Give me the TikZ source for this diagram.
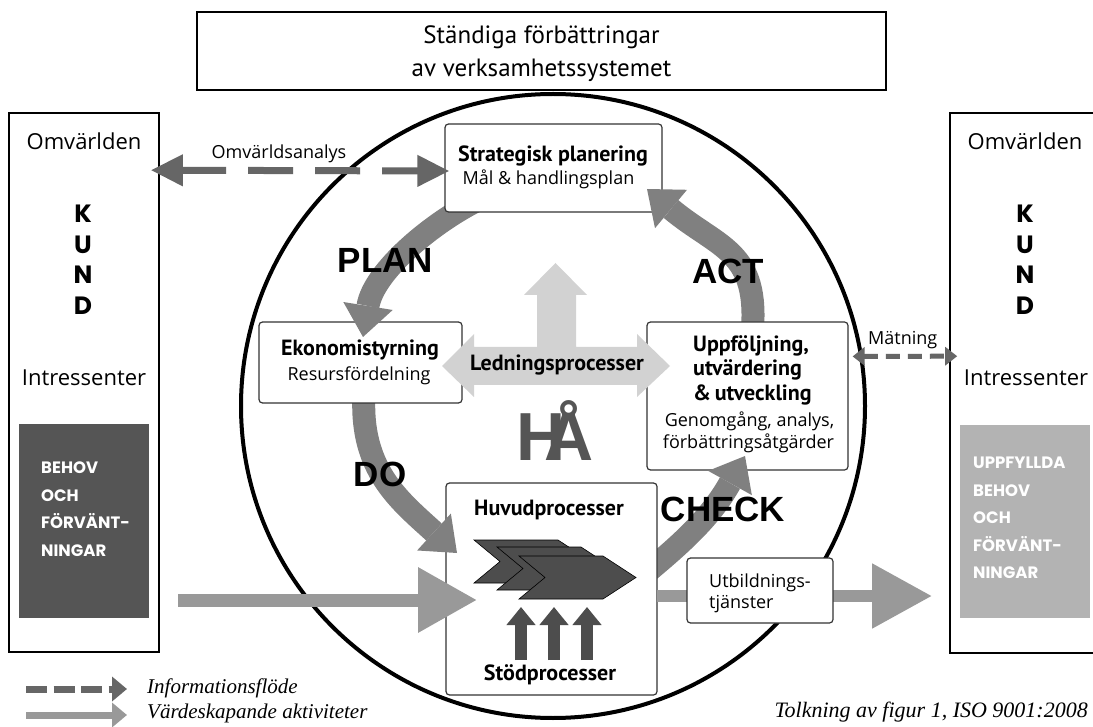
\documentclass[tikz,border=0pt]{standalone}
\usepackage{fontspec}
\setmainfont{Open Sans}
\newfontfamily\ptsans{PT Sans}
\newfontfamily\popfont{Poppins}
\newfontfamily\libsans{Liberation Sans}
\newfontfamily\legserif{Liberation Serif}
\usetikzlibrary{arrows.meta,calc}
\definecolor{infocol}{HTML}{666666}
\definecolor{valcol}{HTML}{999999}
\definecolor{pdcacol}{HTML}{808080}
\definecolor{ledcol}{HTML}{D2D2D2}
\definecolor{darkcol}{HTML}{4D4D4D}
\definecolor{needcol}{HTML}{555555}
\definecolor{metcol}{HTML}{B3B3B3}
\newcommand{\pdcahead}[2]{\fill[pdcacol] ($(#1)!25pt!90:(#2)$) -- (#2) -- ($(#1)!25pt!-90:(#2)$) -- cycle;}
\begin{document}
\begin{tikzpicture}[x=1pt,y=-1pt,
  sqbox/.style={draw=black, line width=1.6pt, fill=white, inner sep=0pt},
  rbox/.style={draw=black!80, line width=1.2pt, rounded corners=3.5pt, fill=white, inner sep=0pt},
  lt/.style={font=\fontsize{18}{20}\selectfont, inner sep=0pt},
  ltbig/.style={font=\fontsize{22}{24}\selectfont, inner sep=0pt},
  bd/.style={font=\ptsans\bfseries\fontsize{22}{24}\selectfont, inner sep=0pt},
  toptxt/.style={font=\ptsans\fontsize{25}{27}\selectfont, inner sep=0pt},
  pdcatxt/.style={font=\libsans\bfseries\fontsize{35}{37}\selectfont, inner sep=0pt},
  kund/.style={font=\popfont\bfseries\fontsize{25}{27}\selectfont, inner sep=0pt},
  needtxt/.style={font=\popfont\bfseries\fontsize{16.5}{20}\selectfont, text=white, inner sep=0pt},
  legtxt/.style={font=\legserif\itshape\fontsize{21}{23}\selectfont, inner sep=0pt},
  infoarrow/.style={draw=infocol, line width=7pt, dash pattern=on 45pt off 22pt},
  shaft/.style={draw=pdcacol, line width=23pt},
  chevron/.style={fill=darkcol, draw=black, line width=0.6pt},
]
\useasboundingbox (0,0) rectangle (1093,727);
\clip (0,0) rectangle (1093,727);
\fill[white] (0,0) rectangle (1093,727);

% top box
\node[sqbox, minimum width=689pt, minimum height=78pt] (top) at (541.5,51) {};
\node[toptxt, anchor=base] (top1) at (541.5,44) {Ständiga förbättringar};
\node[toptxt, anchor=base] (top2) at (541.5,77) {av verksamhetssystemet};

% left box
\node[sqbox, minimum width=150pt, minimum height=539pt] (lbox) at (84,382.5) {};
\node[ltbig, anchor=base] (lomv) at (84,150) {Omvärlden};
\node[kund, anchor=base] (lk1) at (83,223) {K};
\node[kund, anchor=base] (lk2) at (83,254) {U};
\node[kund, anchor=base] (lk3) at (83,284) {N};
\node[kund, anchor=base] (lk4) at (83,315) {D};
\node[ltbig, anchor=base] (lint) at (84,385) {Intressenter};
\node[fill=needcol, minimum width=130pt, minimum height=194pt, inner sep=0pt] (need) at (84,521) {};
\node[needtxt, anchor=base west] (n1) at (41,473) {BEHOV};
\node[needtxt, anchor=base west] (n2) at (41,501) {OCH};
\node[needtxt, anchor=base west] (n3) at (41,528) {FÖRVÄNT-};
\node[needtxt, anchor=base west] (n4) at (41,556) {NINGAR};

% right box
\node[sqbox, minimum width=150pt, minimum height=540pt] (rbox) at (1025,383) {};
\node[ltbig, anchor=base] (romv) at (1025,150) {Omvärlden};
\node[kund, anchor=base] (rk1) at (1025,223) {K};
\node[kund, anchor=base] (rk2) at (1025,254) {U};
\node[kund, anchor=base] (rk3) at (1025,284) {N};
\node[kund, anchor=base] (rk4) at (1025,315) {D};
\node[ltbig, anchor=base] (rint) at (1026,385) {Intressenter};
\node[fill=metcol, minimum width=130pt, minimum height=193pt, inner sep=0pt] (met) at (1025,521.5) {};
\node[needtxt, anchor=base west] (m1) at (973,468) {UPPFYLLDA};
\node[needtxt, anchor=base west] (m2) at (973,496) {BEHOV};
\node[needtxt, anchor=base west] (m3) at (973,523) {OCH};
\node[needtxt, anchor=base west] (m4) at (973,551) {FÖRVÄNT-};
\node[needtxt, anchor=base west] (m5) at (973,578) {NINGAR};

% big circle
\node[draw, line width=4pt, circle, minimum size=624pt, inner sep=0pt] (circ) at (553,406) {};

% PDCA shafts
\coordinate (S1) at (482,198); \coordinate (C1) at (432,222);
\coordinate (B1) at (368,306); \coordinate (T1) at (363,337);
\coordinate (S2) at (364,395); \coordinate (C2) at (360,470);
\coordinate (B2) at (434,532); \coordinate (T2) at (457,553);
\coordinate (S3) at (640,578); \coordinate (C3) at (680,545);
\coordinate (B3) at (730,483); \coordinate (T3) at (745,456);
\coordinate (S4) at (752,335); \coordinate (C4) at (760,250);
\coordinate (B4) at (671,209); \coordinate (T4) at (647,189);
\draw[shaft] (S1) .. controls (C1) and ($(B1)!-1.1!(T1)$) .. (B1);
\draw[shaft] (S2) .. controls (C2) and ($(B2)!-1.5!(T2)$) .. (B2);
\draw[shaft] (S3) .. controls (C3) and ($(B3)!-1.3!(T3)$) .. (B3);
\draw[shaft] (S4) .. controls (C4) and ($(B4)!-2!(T4)$) .. (B4);

% process boxes
\node[rbox, minimum width=217pt, minimum height=88pt] (strat) at (553.5,168) {};
\node[rbox, minimum width=203pt, minimum height=81pt] (ekon) at (360.5,362.5) {};
\node[rbox, minimum width=201pt, minimum height=148pt] (uppf) at (747.5,396) {};
\node[rbox, minimum width=211pt, minimum height=212pt] (huvud) at (551.5,589) {};

% value flow out (under the training box)
\coordinate (vr1) at (657,596);
\coordinate (vr2) at (932,596);
\draw[valcol, line width=12pt, -{Triangle[length=60pt,width=62pt]}] (vr1) -- (vr2);
\node[rbox, minimum width=146pt, minimum height=65pt] (utb) at (760,590.5) {};
\node[lt, anchor=base west] (utb1) at (709,587) {Utbildnings-};
\node[lt, anchor=base west] (utb2) at (709,608) {tjänster};

% PDCA heads
\pdcahead{B1}{T1}
\pdcahead{B2}{T2}
\pdcahead{B3}{T3}
\pdcahead{B4}{T4}

% Ledningsprocesser
\fill[ledcol] (442,366) -- (474,334) -- (474,347) -- (537,347) -- (537,295) -- (524,295)
  -- (555.5,263) -- (587,295) -- (576,295) -- (576,347) -- (637,347) -- (637,334)
  -- (670,366) -- (637,397) -- (637,385) -- (474,385) -- (474,397) -- cycle;
\node[bd, anchor=base] (led) at (557,371) {Ledningsprocesser};

% HÅ
\node[font=\libsans\bfseries\fontsize{68}{70}\selectfont, text=needcol, anchor=base, inner sep=0pt] (ha) at (555,460) {H\kern-0.3em Å};

% box texts
\node[bd, anchor=base] (st1) at (553,162) {Strategisk planering};
\node[lt, anchor=base] (st2) at (548.5,185) {Mål \& handlingsplan};
\node[bd, anchor=base] (ek1) at (360,356) {Ekonomistyrning};
\node[lt, anchor=base] (ek2) at (359,381) {Resursfördelning};
\node[bd, anchor=base west] (up1) at (693,352) {Uppföljning,};
\node[bd, anchor=base west] (up2) at (693,376) {utvärdering};
\node[bd, anchor=base west] (up3) at (693,400) {\&\,utveckling};
\node[lt, anchor=base] (up4) at (749.5,427) {Genomgång, analys,};
\node[lt, anchor=base] (up5) at (748.5,448) {förbättringsåtgärder};
\node[bd, anchor=base] (hv1) at (549,515) {Huvudprocesser};
\node[bd, anchor=base] (hv2) at (550,680) {Stödprocesser};

% chevrons
\filldraw[chevron] (474,540) -- ++(84,0) -- ++(33,21.5) -- ++(-33,21.5) -- ++(-84,0) -- ++(26,-21.5) -- cycle;
\filldraw[chevron] (497,547) -- ++(84,0) -- ++(33,21.5) -- ++(-33,21.5) -- ++(-84,0) -- ++(26,-21.5) -- cycle;
\filldraw[chevron] (519,556) -- ++(84,0) -- ++(33,21.5) -- ++(-33,21.5) -- ++(-84,0) -- ++(26,-21.5) -- cycle;
% support arrows
\foreach \xx/\nm in {521/sa,554/sb,587/sc}{
  \coordinate (\nm0) at (\xx,660);
  \coordinate (\nm1) at (\xx,607);
  \draw[darkcol, line width=12pt, -{Triangle[length=18pt,width=28pt]}] (\nm0) -- (\nm1);
}

% value flow in
\coordinate (vl1) at (178,600);
\coordinate (vl2) at (477,600);
\draw[valcol, line width=13pt, -{Triangle[length=59pt,width=62pt]}] (vl1) -- (vl2);

% PDCA labels
\node[pdcatxt, anchor=base] (plan) at (385.5,273) {PLAN};
\node[pdcatxt, anchor=base] (do) at (380,486) {DO};
\node[pdcatxt, anchor=base] (check) at (723,521) {CHECK};
\node[pdcatxt, anchor=base] (act) at (728,284) {ACT};

% information flows
\coordinate (oa1) at ($(lbox.north east)+(-9,58)$);
\coordinate (oa2) at ($(strat.west)+(5,3)$);
\draw[infoarrow, {Triangle[length=32pt,width=30pt]}-{Triangle[length=32pt,width=30pt]}] (oa1) -- (oa2);
\node[lt, anchor=base] (oalab) at (279,159) {Omvärldsanalys};
\coordinate (ma1) at ($(uppf.north east)+(4,35)$);
\coordinate (ma2) at ($(rbox.north west)+(8,244)$);
\draw[draw=infocol, line width=5pt, dash pattern=on 14pt off 8pt, {Triangle[length=12pt,width=18pt]}-{Triangle[length=12pt,width=18pt]}] (ma1) -- (ma2);
\node[lt, anchor=base west] (malab) at (868,345) {Mätning};

% legend
\coordinate (lg1a) at (26,689); \coordinate (lg1b) at (127,689);
\coordinate (lg2a) at (26,715); \coordinate (lg2b) at (127,715);
\draw[draw=infocol, line width=7pt, dash pattern=on 21pt off 6.5pt, -{Triangle[length=15pt,width=24pt]}] (lg1a) -- (lg1b);
\draw[draw=valcol, line width=7pt, -{Triangle[length=15pt,width=24pt]}] (lg2a) -- (lg2b);
\node[legtxt, anchor=base west] (lgt1) at (147,693) {Informationsflöde};
\node[legtxt, anchor=base west] (lgt2) at (147,718) {Värdeskapande aktiviteter};
\node[legtxt, font=\legserif\itshape\fontsize{22}{24}\selectfont, anchor=base east] (src) at (1088,717) {Tolkning av figur 1, ISO 9001:2008};
\end{tikzpicture}
\end{document}
